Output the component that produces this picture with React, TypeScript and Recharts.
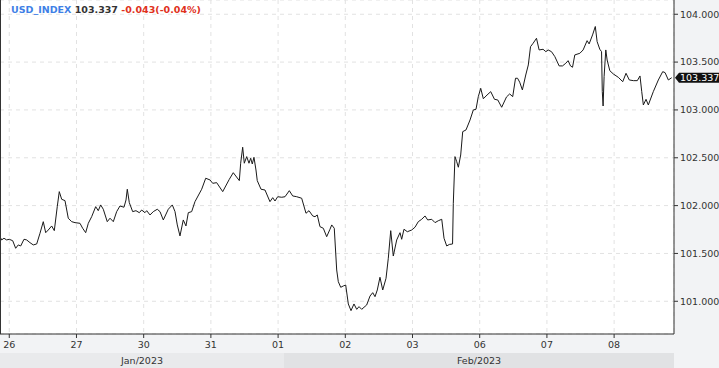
import React from 'react';
import { LineChart, Line, XAxis, YAxis, CartesianGrid, ReferenceLine } from 'recharts';

// Trading days (x = day index, fractional part = time of day)
const dayTicks = [0, 1, 2, 3, 4, 5, 6, 7, 8, 9];
const dayLabels = ['26', '27', '30', '31', '01', '02', '03', '06', '07', '08'];
const priceTicks = [101, 101.5, 102, 102.5, 103, 103.5, 104];

const times = [
  -0.138, -0.113, -0.079, -0.039, 0, 0.051, 0.095, 0.134, 0.17, 0.219, 0.259, 0.308, 0.357, 0.408, 0.457, 0.506,
  0.542, 0.58, 0.631, 0.67, 0.714, 0.744, 0.78, 0.829, 0.878, 0.929, 0.978, 1.052, 1.092, 1.137, 1.176, 1.226,
  1.286, 1.324, 1.36, 1.399, 1.458, 1.499, 1.548, 1.598, 1.647, 1.707, 1.737, 1.756, 1.786, 1.836, 1.885, 1.935,
  1.97, 2.019, 2.045, 2.094, 2.143, 2.202, 2.243, 2.292, 2.366, 2.426, 2.466, 2.5, 2.54, 2.589, 2.629, 2.664,
  2.714, 2.763, 2.863, 2.923, 2.987, 3.027, 3.086, 3.176, 3.274, 3.333, 3.423, 3.443, 3.473, 3.497, 3.533, 3.567,
  3.592, 3.616, 3.641, 3.671, 3.69, 3.746, 3.805, 3.879, 3.92, 3.954, 3.994, 4.054, 4.103, 4.167, 4.217, 4.277,
  4.351, 4.415, 4.46, 4.515, 4.549, 4.583, 4.623, 4.673, 4.723, 4.772, 4.798, 4.836, 4.872, 4.896, 4.932, 4.97,
  5.006, 5.045, 5.085, 5.129, 5.17, 5.204, 5.244, 5.278, 5.318, 5.368, 5.408, 5.442, 5.476, 5.516, 5.557, 5.606,
  5.64, 5.676, 5.714, 5.765, 5.814, 5.839, 5.873, 5.923, 5.988, 6.037, 6.086, 6.137, 6.186, 6.226, 6.286, 6.335,
  6.384, 6.435, 6.469, 6.509, 6.548, 6.596, 6.607, 6.632, 6.658, 6.682, 6.717, 6.747, 6.796, 6.856, 6.905, 6.945,
  6.979, 7.015, 7.054, 7.109, 7.164, 7.22, 7.269, 7.327, 7.399, 7.446, 7.491, 7.533, 7.563, 7.595, 7.635, 7.685,
  7.723, 7.756, 7.795, 7.845, 7.884, 7.943, 7.984, 8.018, 8.068, 8.118, 8.182, 8.232, 8.281, 8.315, 8.351, 8.381,
  8.415, 8.49, 8.539, 8.598, 8.628, 8.679, 8.72, 8.747, 8.787, 8.813, 8.824, 8.836, 8.851, 8.876, 8.896, 8.936,
  8.988, 9.062, 9.128, 9.177, 9.226, 9.286, 9.345, 9.385, 9.411, 9.435, 9.475, 9.509, 9.583, 9.658, 9.723, 9.758,
  9.807, 9.857,
];

const prices = [
  101.675, 101.641, 101.659, 101.641, 101.648, 101.633, 101.554, 101.589, 101.578, 101.648, 101.641, 101.613, 101.589, 101.599, 101.711, 101.832,
  101.717, 101.745, 101.787, 101.738, 101.989, 102.146, 102.066, 102.052, 101.868, 101.832, 101.822, 101.815, 101.763, 101.717, 101.815, 101.884,
  101.989, 101.947, 102.007, 101.962, 101.832, 101.868, 101.832, 101.937, 101.996, 101.983, 102.059, 102.171, 102.031, 101.937, 101.947, 101.926,
  101.954, 101.926, 101.947, 101.902, 101.937, 101.962, 101.937, 101.85, 101.962, 102.007, 101.937, 101.798, 101.683, 101.85, 101.787, 101.926,
  101.937, 102.041, 102.171, 102.286, 102.268, 102.233, 102.24, 102.146, 102.275, 102.344, 102.261, 102.443, 102.61, 102.443, 102.512, 102.443,
  102.495, 102.435, 102.505, 102.372, 102.261, 102.171, 102.163, 102.041, 102.083, 102.048, 102.093, 102.087, 102.093, 102.156, 102.101, 102.093,
  102.077, 101.92, 101.947, 101.892, 101.884, 101.902, 101.78, 101.763, 101.675, 101.753, 101.798, 101.763, 101.327, 101.205, 101.146, 101.16,
  101.17, 100.972, 100.902, 100.972, 100.916, 100.944, 100.916, 100.937, 100.961, 101.055, 101.09, 101.048, 101.118, 101.251, 101.118, 101.24,
  101.45, 101.738, 101.473, 101.641, 101.717, 101.648, 101.753, 101.727, 101.745, 101.774, 101.832, 101.857, 101.892, 101.85, 101.857, 101.822,
  101.842, 101.857, 101.659, 101.578, 101.594, 101.599, 102.024, 102.512, 102.459, 102.401, 102.529, 102.773, 102.791, 102.895, 103.0, 103.007,
  103.139, 103.226, 103.117, 103.156, 103.191, 103.111, 103.104, 103.028, 103.136, 103.167, 103.139, 103.331, 103.331, 103.29, 103.209, 103.365,
  103.47, 103.661, 103.697, 103.749, 103.627, 103.634, 103.609, 103.627, 103.609, 103.557, 103.46, 103.46, 103.488, 103.515, 103.46, 103.446,
  103.575, 103.592, 103.627, 103.724, 103.69, 103.784, 103.872, 103.714, 103.634, 103.609, 103.191, 103.041, 103.348, 103.627, 103.522, 103.41,
  103.376, 103.341, 103.295, 103.383, 103.313, 103.306, 103.306, 103.355, 103.191, 103.052, 103.111, 103.052, 103.191, 103.313, 103.4, 103.39,
  103.313, 103.337,
];

const symbol = 'USD_INDEX';
const lastPrice = 103.337;
const change = '-0.043(-0.04%)';
const months = [
  { label: 'Jan/2023', width: 284, bg: '#e9eaec' },
  { label: 'Feb/2023', width: 390, bg: '#e1e2e4' },
];

const data = times.map((t, i) => ({ t, price: prices[i] }));

const font = '"DejaVu Sans", sans-serif';
const tickStyle = { fontSize: 9.5, fill: '#333', fontFamily: font };

const PriceTag = (props: any) => {
  const { viewBox } = props;
  const x = viewBox.x + viewBox.width;
  const y = viewBox.y;
  return (
    <g>
      <path d={`M${x + 1},${y} L${x + 5},${y - 5} L719,${y - 5} L719,${y + 5} L${x + 5},${y + 5} Z`} fill="#111" />
      <text x={x + 6} y={y} dy="0.35em" fill="#fff" fontSize={9.5} fontFamily={font}>
        {lastPrice.toFixed(3)}
      </text>
    </g>
  );
};

export default function App() {
  return (
    <div style={{ position: 'absolute', left: 0, top: 0, width: 719, height: 368, background: '#f2f3f5', fontFamily: font }}>
      <LineChart width={719} height={353} data={data} margin={{ top: 0, right: 0, bottom: 0, left: 0 }}>
        <CartesianGrid fill="#fff" stroke="#e2e2e2" strokeDasharray="4 4" />
        <XAxis
          dataKey="t"
          type="number"
          domain={[-0.138, 9.891]}
          allowDataOverflow
          ticks={dayTicks}
          tickFormatter={(v: number) => dayLabels[v]}
          height={19}
          tickSize={4}
          tickMargin={3}
          tick={tickStyle}
          axisLine={{ stroke: '#333' }}
          tickLine={{ stroke: '#333' }}
        />
        <YAxis
          orientation="right"
          type="number"
          domain={[100.658, 104.149]}
          allowDataOverflow
          ticks={priceTicks}
          tickFormatter={(v: number) => v.toFixed(3)}
          width={45}
          tickSize={4}
          tickMargin={2}
          tick={{ ...tickStyle, textAnchor: 'start' }}
          axisLine={{ stroke: '#333' }}
          tickLine={{ stroke: '#333' }}
        />
        <ReferenceLine y={lastPrice} stroke="none" label={<PriceTag />} />
        <Line
          type="linear"
          dataKey="price"
          stroke="#1a1a1a"
          strokeWidth={1}
          dot={false}
          isAnimationActive={false}
        />
      </LineChart>
      <div style={{ position: 'absolute', left: 0, top: 0, width: 1, height: 334, background: '#333' }} />
      <div style={{ position: 'absolute', left: 11, top: 4, fontSize: 9.5, fontWeight: 'bold', whiteSpace: 'nowrap' }}>
        <span style={{ color: '#3f7fe6' }}>{symbol}</span>{' '}
        <span style={{ color: '#333' }}>{lastPrice.toFixed(3)}</span>{' '}
        <span style={{ color: '#e0311c' }}>{change}</span>
      </div>
      <div style={{ position: 'absolute', left: 0, top: 353, height: 15, display: 'flex' }}>
        {months.map((m) => (
          <div
            key={m.label}
            style={{ width: m.width, height: 15, background: m.bg, fontSize: 9.5, color: '#333', textAlign: 'center', lineHeight: '15px' }}
          >
            {m.label}
          </div>
        ))}
      </div>
    </div>
  );
}
